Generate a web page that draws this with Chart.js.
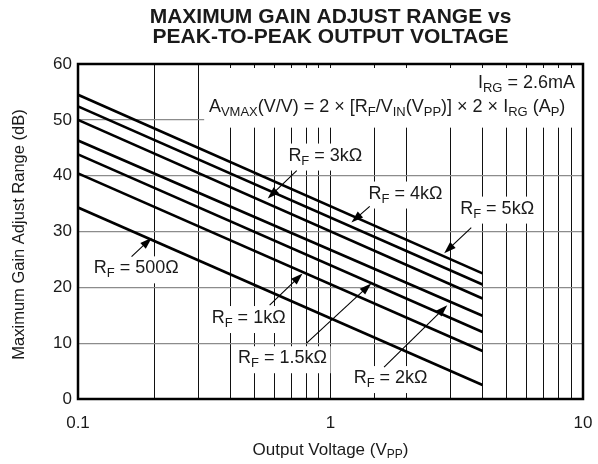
<!DOCTYPE html>
<html>
<head>
<meta charset="utf-8">
<script src="https://cdn.jsdelivr.net/npm/chart.js@4"></script>
<style>
  body { margin: 0; background: #fff; }
</style>
</head>
<body>
<canvas id="gain-chart" width="598" height="464"></canvas>
<script>
// output voltage (Vpp) at the two ends of every curve
const outputVoltage = [0.1, 4];

// max gain adjust range (dB), one array per RF
const gain500 = [34.3, 2.5];
const gain1k = [40.4, 8.6];
const gain1k5 = [43.8, 12.0];
const gain2k = [46.3, 14.9];
const gain3k = [50.0, 18.0];
const gain4k = [52.4, 20.5];
const gain5k = [54.5, 22.5];

const decadeLabels = ['0.1', '1', '10'];

const FONT = "'Liberation Sans', Arial, Helvetica, sans-serif";
const canvas = document.querySelector('#gain-chart');

// text made of pieces, sub = true drops the piece down as a subscript
function drawRich(ctx, parts, x, y, align, size, bold) {
  size = size || 18;
  const subSize = Math.round(size * 0.72);
  const weight = bold ? 'bold ' : '';
  ctx.save();
  ctx.textBaseline = 'middle';
  ctx.textAlign = 'left';
  let total = 0;
  parts.forEach(p => {
    ctx.font = weight + (p.sub ? subSize : size) + 'px ' + FONT;
    p.w = ctx.measureText(p.t).width;
    total += p.w;
  });
  let cx = x;
  if (align === 'center') cx = x - total / 2;
  if (align === 'right') cx = x - total;
  parts.forEach(p => {
    ctx.font = weight + (p.sub ? subSize : size) + 'px ' + FONT;
    ctx.fillStyle = '#1a1a1a';
    ctx.fillText(p.t, cx, p.sub ? y + size * 0.3 : y);
    cx += p.w;
  });
  ctx.restore();
  return total;
}

function arrow(ctx, x1, y1, x2, y2) {
  const a = Math.atan2(y2 - y1, x2 - x1);
  const len = 12, half = 4;
  ctx.save();
  ctx.strokeStyle = '#000';
  ctx.fillStyle = '#000';
  ctx.lineWidth = 1.1;
  ctx.beginPath();
  ctx.moveTo(x1, y1);
  ctx.lineTo(x2 - Math.cos(a) * len * 0.8, y2 - Math.sin(a) * len * 0.8);
  ctx.stroke();
  ctx.beginPath();
  ctx.moveTo(x2, y2);
  ctx.lineTo(x2 - Math.cos(a) * len - Math.sin(a) * half, y2 - Math.sin(a) * len + Math.cos(a) * half);
  ctx.lineTo(x2 - Math.cos(a) * len + Math.sin(a) * half, y2 - Math.sin(a) * len - Math.cos(a) * half);
  ctx.closePath();
  ctx.fill();
  ctx.restore();
}

// RF labels: label centre and arrow (from -> to), all in data units
const rfLabels = [
  { r: '3kΩ', at: [0.954, 43.6], from: [0.735, 40.9], to: [0.564, 35.9] },
  { r: '4kΩ', at: [1.98, 36.8], from: [1.43, 34.5], to: [1.21, 31.6] },
  { r: '5kΩ', at: [4.57, 34.1], from: [3.61, 30.7], to: [2.82, 26.1] },
  { r: '500Ω', at: [0.170, 23.4], from: [0.163, 25.5], to: [0.196, 28.9] },
  { r: '1kΩ', at: [0.474, 14.5], from: [0.574, 16.8], to: [0.775, 22.5] },
  { r: '1.5kΩ', at: [0.646, 7.3], from: [0.804, 10.0], to: [1.45, 20.7] },
  { r: '2kΩ', at: [1.73, 3.75], from: [1.63, 5.7], to: [2.90, 16.8] }
];

const notesPlugin = {
  id: 'notes',
  beforeDatasetsDraw(chart) {
    const ctx = chart.ctx;
    const xs = chart.scales.x, ys = chart.scales.y;
    const area = chart.chartArea;
    // white patches that break the grid behind the text
    ctx.save();
    ctx.fillStyle = '#fff';
    const fx = xs.getPixelForValue(0.316);
    const fb = ys.getPixelForValue(48.6);
    ctx.fillRect(fx, area.top + 4, area.right - fx, fb - area.top - 4);
    rfLabels.forEach(l => {
      const px = xs.getPixelForValue(l.at[0]);
      const py = ys.getPixelForValue(l.at[1]);
      ctx.font = '18px ' + FONT;
      const w = ctx.measureText('R = ' + l.r).width + 9;
      ctx.fillRect(px - w / 2 - 3, py - 12, w + 6, 27);
    });
    ctx.restore();

    rfLabels.forEach(l => {
      const px = xs.getPixelForValue(l.at[0]);
      const py = ys.getPixelForValue(l.at[1]);
      drawRich(ctx, [{ t: 'R' }, { t: 'F', sub: true }, { t: ' = ' + l.r }], px, py, 'center');
    });

    drawRich(ctx, [{ t: 'I' }, { t: 'RG', sub: true }, { t: ' = 2.6mA' }],
      area.right - 8, ys.getPixelForValue(56.6), 'right');
    drawRich(ctx, [
      { t: 'A' }, { t: 'VMAX', sub: true }, { t: '(V/V) = 2 × [R' }, { t: 'F', sub: true },
      { t: '/V' }, { t: 'IN', sub: true }, { t: '(V' }, { t: 'PP', sub: true },
      { t: ')] × 2 × I' }, { t: 'RG', sub: true }, { t: ' (A' }, { t: 'P', sub: true }, { t: ')' }
    ], xs.getPixelForValue(0.33), ys.getPixelForValue(52.3), 'left');
  },
  afterDraw(chart) {
    const ctx = chart.ctx;
    const xs = chart.scales.x, ys = chart.scales.y;
    const area = chart.chartArea;
    rfLabels.forEach(l => {
      arrow(ctx, xs.getPixelForValue(l.from[0]), ys.getPixelForValue(l.from[1]),
        xs.getPixelForValue(l.to[0]), ys.getPixelForValue(l.to[1]));
    });
    // heavy frame
    ctx.save();
    ctx.strokeStyle = '#000';
    ctx.lineWidth = 2.5;
    ctx.strokeRect(area.left, area.top, area.right - area.left, area.bottom - area.top);
    ctx.restore();
    // title, centred on the plot
    const cx = (area.left + area.right) / 2;
    drawRich(ctx, [{ t: 'MAXIMUM GAIN ADJUST RANGE vs' }], cx, 17, 'center', 21, true);
    drawRich(ctx, [{ t: 'PEAK-TO-PEAK OUTPUT VOLTAGE' }], cx, 37, 'center', 21, true);
    // axis titles
    drawRich(ctx, [{ t: 'Output Voltage (V' }, { t: 'PP', sub: true }, { t: ')' }], cx, 450, 'center', 17);
    ctx.save();
    ctx.translate(19, (area.top + area.bottom) / 2 + 3);
    ctx.rotate(-Math.PI / 2);
    drawRich(ctx, [{ t: 'Maximum Gain Adjust Range (dB)' }], 0, 0, 'center', 16.5);
    ctx.restore();
  }
};

function curve(values) {
  return {
    data: outputVoltage.map((v, i) => ({ x: v, y: values[i] })),
    borderColor: '#000',
    borderWidth: 2.6,
    pointRadius: 0,
    fill: false,
    tension: 0
  };
}

new Chart(canvas, {
  type: 'line',
  data: {
    datasets: [gain500, gain1k, gain1k5, gain2k, gain3k, gain4k, gain5k].map(curve)
  },
  options: {
    responsive: false,
    animation: false,
    layout: { padding: { top: 64, right: 15, left: 0, bottom: 0 } },
    plugins: {
      legend: { display: false },
      tooltip: { enabled: false }
    },
    scales: {
      x: {
        type: 'logarithmic',
        min: 0.1,
        max: 10,
        border: { display: false },
        grid: { color: '#111', lineWidth: 1, drawTicks: false },
        ticks: {
          autoSkip: false,
          maxRotation: 0,
          padding: 14,
          color: '#1a1a1a',
          font: { family: FONT, size: 17 },
          callback: function (v) {
            const e = Math.log10(v);
            if (Math.abs(e - Math.round(e)) > 1e-6) return '';
            return decadeLabels[Math.round(e) + 1];
          }
        },
        afterFit(scale) {
          scale.height = 65;
          scale.paddingLeft = 0;
          scale.paddingRight = 4;
        }
      },
      y: {
        min: 0,
        max: 60,
        border: { display: false },
        grid: { color: '#8c8c8c', lineWidth: 1.3, drawTicks: false },
        ticks: {
          stepSize: 10,
          padding: 6,
          color: '#1a1a1a',
          font: { family: FONT, size: 17 }
        },
        afterFit(scale) {
          scale.width = 78;
          scale.paddingTop = 0;
          scale.paddingBottom = 0;
        }
      }
    }
  },
  plugins: [notesPlugin]
});
</script>
</body>
</html>
